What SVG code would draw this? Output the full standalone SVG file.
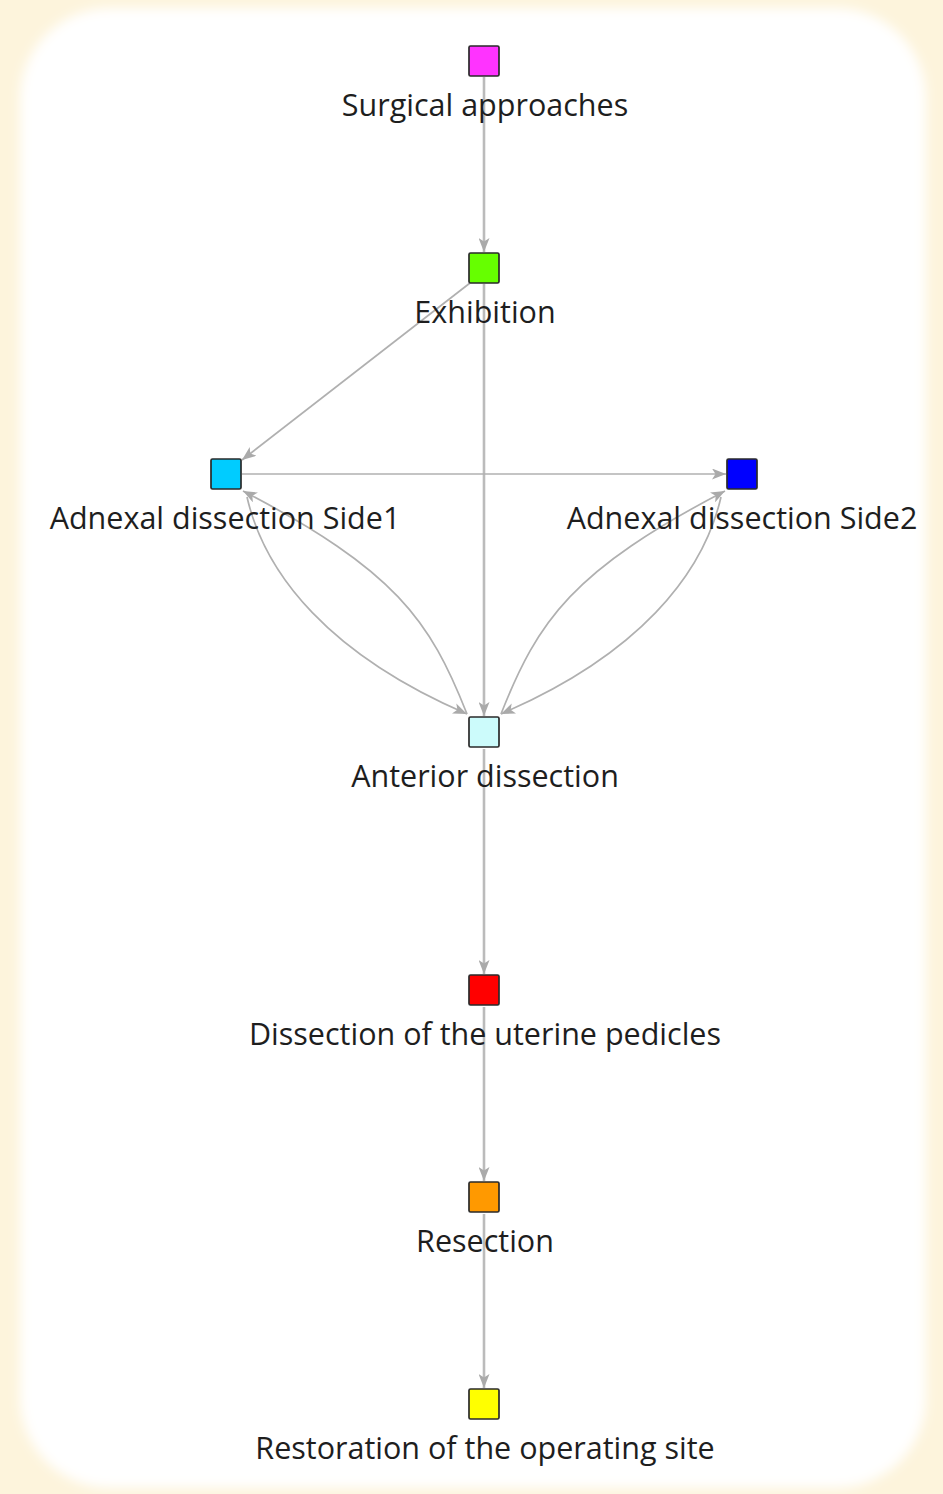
<svg xmlns="http://www.w3.org/2000/svg" width="943" height="1494" viewBox="0 0 943 1494">
  <defs>
    <filter id="soft" x="-5%" y="-5%" width="110%" height="110%">
      <feGaussianBlur stdDeviation="6"/>
    </filter>
    <marker id="arr" viewBox="0 0 14 11" refX="14" refY="5.5" markerWidth="14" markerHeight="11" markerUnits="userSpaceOnUse" orient="auto">
      <path d="M0,0 L14,5.5 L0,11 L3.5,5.5 Z" fill="#aaaaaa"/>
    </marker>
    <style>
      .edge { fill: none; stroke: #b0b0b0; stroke-width: 1.7; }
      .main { stroke-width: 2.6; stroke: #bbbbbb; }
      .node rect { stroke: #2a2a2a; stroke-width: 1.7; }
      .node text { font-family: "Open Sans", "DejaVu Sans", sans-serif; font-size: 30.5px; fill: #1e1e1e; text-anchor: middle; }
    </style>
  </defs>
  <rect x="0" y="0" width="943" height="1494" fill="#fdf4dc"/>
  <rect x="20" y="8" width="906" height="1480" rx="90" ry="90" fill="#ffffff" filter="url(#soft)"/>

  <g id="connectors">
    <line class="edge main" x1="484" y1="77" x2="484" y2="252" marker-end="url(#arr)"/>
    <line class="edge" x1="470" y1="283" x2="242" y2="460" marker-end="url(#arr)"/>
    <line class="edge main" x1="484" y1="284" x2="484" y2="716" marker-end="url(#arr)"/>
    <line class="edge" x1="242" y1="474" x2="726" y2="474" marker-end="url(#arr)"/>
    <path class="edge" d="M247,497 C265,575 330,655 467,714" marker-end="url(#arr)"/>
    <path class="edge" d="M467,714 C430,620 395,570 243,491" marker-end="url(#arr)"/>
    <path class="edge" d="M721,497 C703,575 638,655 501,714" marker-end="url(#arr)"/>
    <path class="edge" d="M501,714 C538,620 573,570 725,491" marker-end="url(#arr)"/>
    <line class="edge main" x1="484" y1="749" x2="484" y2="974" marker-end="url(#arr)"/>
    <line class="edge main" x1="484" y1="1007" x2="484" y2="1181" marker-end="url(#arr)"/>
    <line class="edge main" x1="484" y1="1214" x2="484" y2="1388" marker-end="url(#arr)"/>
  </g>

  <g id="node-surgical-approaches" class="node">
    <rect x="469" y="46" width="30" height="30" rx="1.5" fill="#ff33ff"/>
    <text x="485" y="116">Surgical approaches</text>
  </g>
  <g id="node-exhibition" class="node">
    <rect x="469" y="253" width="30" height="30" rx="1.5" fill="#66ff00"/>
    <text x="485" y="323">Exhibition</text>
  </g>
  <g id="node-adnexal-side1" class="node">
    <rect x="211" y="459" width="30" height="30" rx="1.5" fill="#00ccff"/>
    <text x="225" y="529">Adnexal dissection Side1</text>
  </g>
  <g id="node-adnexal-side2" class="node">
    <rect x="727" y="459" width="30" height="30" rx="1.5" fill="#0000ff"/>
    <text x="742" y="529">Adnexal dissection Side2</text>
  </g>
  <g id="node-anterior-dissection" class="node">
    <rect x="469" y="717" width="30" height="30" rx="1.5" fill="#ccfbfb"/>
    <text x="485" y="787">Anterior dissection</text>
  </g>
  <g id="node-uterine-pedicles" class="node">
    <rect x="469" y="975" width="30" height="30" rx="1.5" fill="#ff0000"/>
    <text x="485" y="1045">Dissection of the uterine pedicles</text>
  </g>
  <g id="node-resection" class="node">
    <rect x="469" y="1182" width="30" height="30" rx="1.5" fill="#ff9900"/>
    <text x="485" y="1252">Resection</text>
  </g>
  <g id="node-restoration" class="node">
    <rect x="469" y="1389" width="30" height="30" rx="1.5" fill="#ffff00"/>
    <text x="485" y="1459">Restoration of the operating site</text>
  </g>
</svg>
